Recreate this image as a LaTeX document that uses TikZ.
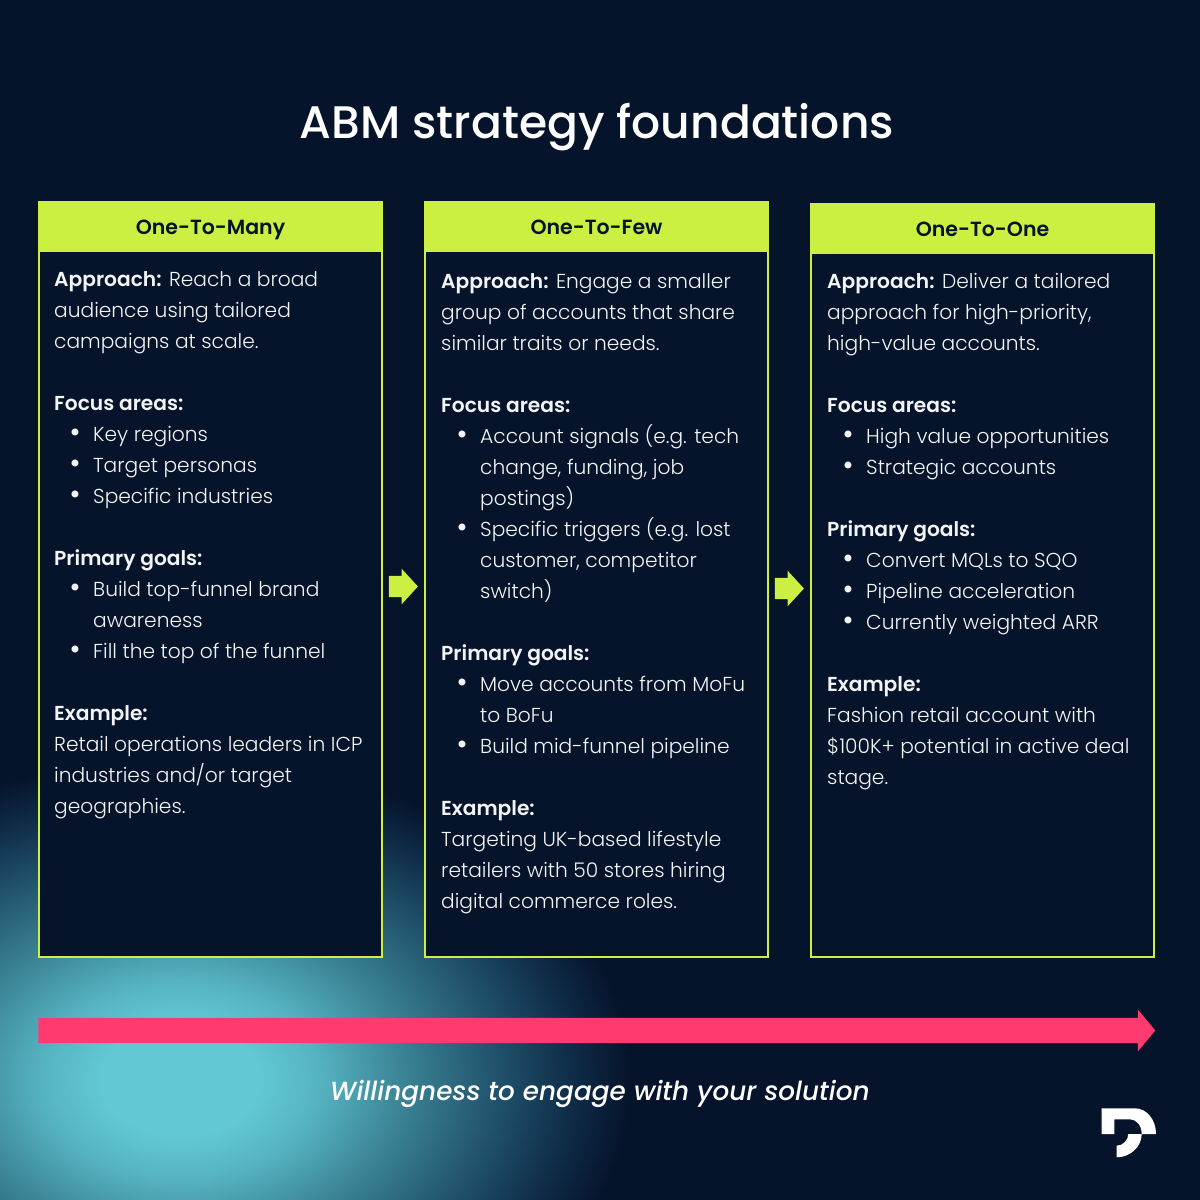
\documentclass[tikz,border=0pt]{standalone}
\usepackage{fontspec}
\setmainfont{Poppins Light}[BoldFont={Poppins SemiBold},ItalicFont={Poppins Medium Italic}]
\newfontfamily\titlefont{Poppins Medium}
\usetikzlibrary{shapes.arrows}

\definecolor{bgdark}{HTML}{06142B}
\definecolor{lime}{HTML}{CBF041}
\definecolor{hotpink}{HTML}{FF3A6E}
\definecolor{bodytext}{HTML}{F2F4F6}
\definecolor{glowa}{HTML}{62C8D4}
\definecolor{glowb}{HTML}{56B4C2}
\definecolor{glowc}{HTML}{3A8294}
\definecolor{glowd}{HTML}{1F4F68}
\definecolor{glowe}{HTML}{0F2C48}

\pgfdeclareradialshading{tealglow}{\pgfpoint{0bp}{0bp}}{%
	color(0bp)=(glowa); color(4bp)=(glowa); color(7bp)=(glowb); color(11.5bp)=(glowc);
	color(16.5bp)=(glowd); color(20bp)=(glowe); color(23bp)=(bgdark); color(50bp)=(bgdark)}

\newcommand{\itm}{\makebox[39pt][l]{\hspace{15.5pt}\raisebox{-1.5pt}{\fontsize{30}{31}\selectfont\textbullet}}}
\newcommand{\ind}{\hspace*{39pt}}

\tikzset{
	panel/.style={draw=lime, line width=2pt, fill=bgdark},
	headtext/.style={text=bgdark, anchor=base, font=\fontsize{20.5}{25}\selectfont\bfseries},
	bodybox/.style={anchor=north west, inner sep=0pt, align=left, text=bodytext, font=\fontsize{20.2}{31}\selectfont},
	steparrow/.style={single arrow, fill=lime, inner sep=0pt, minimum height=29pt, single arrow head extend=7pt, single arrow tip angle=95},
}

\begin{document}
\begin{tikzpicture}[x=1pt,y=-1pt]
	\useasboundingbox (0,0) rectangle (1200,1200);
	\fill[bgdark] (0,0) rectangle (1200,1200);

	% Glow in the lower left corner
	\begin{scope}
		\clip (0,0) rectangle (1200,1200);
		\shade[shading=tealglow] (180,1080) ellipse (490 and 350);
	\end{scope}

	\node[text=white, font=\titlefont\fontsize{45.6}{56}\selectfont] (title) at (597,127) {ABM strategy foundations};

	% Panels
	\draw[panel] (39,201.5) rectangle (382,957);
	\draw[panel] (425,201.5) rectangle (768,957);
	\draw[panel] (811,203.5) rectangle (1154,957);
	\fill[lime] (38,201) rectangle (383,252);
	\fill[lime] (424,201) rectangle (769,252);
	\fill[lime] (810,203) rectangle (1155,254);

	\node[headtext] (headmany) at (210.5,234) {One-To-Many};
	\node[headtext] (headfew) at (596.5,234) {One-To-Few};
	\node[headtext] (headone) at (982.5,236) {One-To-One};

	\node[bodybox] (bodymany) at (54,271) {%
		\textbf{Approach:} Reach a broad\\
		audience using tailored\\
		campaigns at scale.\\[31pt]
		\textbf{Focus areas:}\\
		\itm Key regions\\
		\itm Target personas\\
		\itm Specific industries\\[31pt]
		\textbf{Primary goals:}\\
		\itm Build top-funnel brand\\
		\ind awareness\\
		\itm Fill the top of the funnel\\[31pt]
		\textbf{Example:}\\
		Retail operations leaders in ICP\\
		industries and/or target\\
		geographies.};

	\node[bodybox] (bodyfew) at (441,273) {%
		\textbf{Approach:} Engage a smaller\\
		group of accounts that share\\
		similar traits or needs.\\[31pt]
		\textbf{Focus areas:}\\
		\itm Account signals (e.g. tech\\
		\ind change, funding, job\\
		\ind postings)\\
		\itm Specific triggers (e.g. lost\\
		\ind customer, competitor\\
		\ind switch)\\[31pt]
		\textbf{Primary goals:}\\
		\itm Move accounts from MoFu\\
		\ind to BoFu\\
		\itm Build mid-funnel pipeline\\[31pt]
		\textbf{Example:}\\
		Targeting UK-based lifestyle\\
		retailers with 50 stores hiring\\
		digital commerce roles.};

	\node[bodybox] (bodyone) at (827,273) {%
		\textbf{Approach:} Deliver a tailored\\
		approach for high-priority,\\
		high-value accounts.\\[31pt]
		\textbf{Focus areas:}\\
		\itm High value opportunities\\
		\itm Strategic accounts\\[31pt]
		\textbf{Primary goals:}\\
		\itm Convert MQLs to SQO\\
		\itm Pipeline acceleration\\
		\itm Currently weighted ARR\\[31pt]
		\textbf{Example:}\\
		Fashion retail account with\\
		\$100K+ potential in active deal\\
		stage.};

	% Arrows between panels
	\node[steparrow] (stepa) at (398.5,586.5) {\rule{0pt}{21pt}};
	\node[steparrow] (stepb) at (784.5,588.5) {\rule{0pt}{21pt}};

	% Long arrow
	\node[single arrow, fill=hotpink, inner sep=0pt, minimum height=1117pt, single arrow head extend=8pt, single arrow tip angle=100] (scale) at (591.5,1030.5) {\rule{0pt}{25pt}};
	\node[text=white, font=\fontsize{26.3}{30}\selectfont\itshape] (scaletext) at (600,1094) {Willingness to engage with your solution};

	% Logo
	\fill[white] (1101.7,1108.3) -- (1135,1108.3) .. controls (1147,1108.3) and (1156,1120) .. (1156,1134)
		-- (1141.7,1134) .. controls (1141.7,1125) and (1136,1119.3) .. (1130,1119.3)
		-- (1114.3,1119.3) -- (1114.3,1134) -- (1101.7,1134) -- cycle;
	\fill[white] (1128.3,1134) -- (1141.7,1134) .. controls (1141.7,1147) and (1130,1157.3) .. (1116.7,1157.3)
		-- (1116.7,1145.7) .. controls (1123,1145.7) and (1128.3,1140) .. (1128.3,1134) -- cycle;
\end{tikzpicture}
\end{document}
